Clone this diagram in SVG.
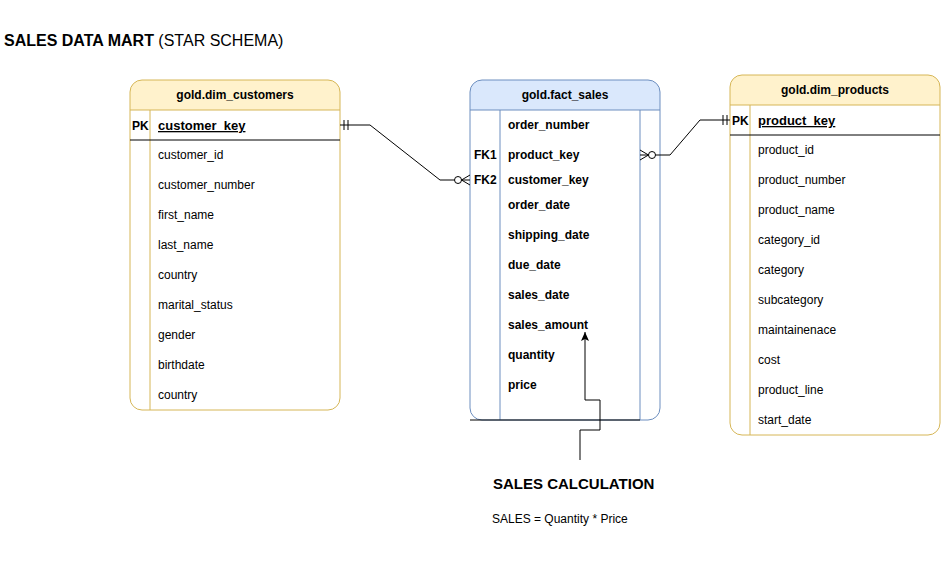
<svg xmlns="http://www.w3.org/2000/svg" width="941" height="583" viewBox="0 0 941 583">
<style>
text{font-family:"Liberation Sans",Arial,sans-serif;font-size:12px;fill:#000}
.b{font-weight:bold}
.h{font-weight:bold;text-anchor:middle}
.k{font-weight:bold;font-size:13px;text-decoration:underline}
.ys{stroke:#d6b656;fill:none}
.bs{stroke:#6c8ebf;fill:none}
.blk{stroke:#000;fill:none}
.c{stroke:#000;fill:none;stroke-width:1}
</style>
<defs>
<marker id="arr" markerWidth="10" markerHeight="10" refX="9" refY="5" orient="auto" markerUnits="userSpaceOnUse">
<path d="M0,1 L9,5 L0,9 L2,5 Z" fill="#000"/>
</marker>
</defs>
<rect width="941" height="583" fill="#fff"/>
<text x="4" y="46" style="font-size:16px"><tspan class="b">SALES DATA MART</tspan> (STAR SCHEMA)</text>

<g id="dim_customers">
<path d="M130,110 V92 a12,12 0 0 1 12,-12 H328 a12,12 0 0 1 12,12 V110 Z" fill="#fff2cc"/>
<rect x="130" y="80" width="210" height="330" rx="12" class="ys"/>
<line x1="130" y1="110" x2="340" y2="110" class="ys"/>
<line x1="150" y1="110" x2="150" y2="410" class="ys"/>
<line x1="130" y1="140" x2="340" y2="140" class="blk"/>
<text x="235" y="99" class="h">gold.dim_customers</text>
<text x="132" y="130" class="b">PK</text>
<text x="158" y="130" class="k">customer_key</text>
<text x="158" y="159">customer_id</text>
<text x="158" y="189">customer_number</text>
<text x="158" y="219">first_name</text>
<text x="158" y="249">last_name</text>
<text x="158" y="279">country</text>
<text x="158" y="309">marital_status</text>
<text x="158" y="339">gender</text>
<text x="158" y="369">birthdate</text>
<text x="158" y="399">country</text>
</g>

<g id="fact_sales">
<path d="M470,110 V92 a12,12 0 0 1 12,-12 H648 a12,12 0 0 1 12,12 V110 Z" fill="#dae8fc"/>
<rect x="470" y="80" width="190" height="340" rx="12" class="bs"/>
<line x1="470" y1="110" x2="660" y2="110" class="bs"/>
<line x1="500" y1="110" x2="500" y2="420" class="bs"/>
<line x1="640" y1="110" x2="640" y2="420" class="bs"/>
<line x1="470" y1="420" x2="640" y2="420" class="blk"/>
<text x="565" y="99" class="h">gold.fact_sales</text>
<text x="508" y="129" class="b">order_number</text>
<text x="474" y="159" class="b">FK1</text>
<text x="508" y="159" class="b">product_key</text>
<text x="474" y="184" class="b">FK2</text>
<text x="508" y="184" class="b">customer_key</text>
<text x="508" y="209" class="b">order_date</text>
<text x="508" y="239" class="b">shipping_date</text>
<text x="508" y="269" class="b">due_date</text>
<text x="508" y="299" class="b">sales_date</text>
<text x="508" y="329" class="b">sales_amount</text>
<text x="508" y="359" class="b">quantity</text>
<text x="508" y="389" class="b">price</text>
</g>

<g id="dim_products">
<path d="M730,105 V87 a12,12 0 0 1 12,-12 H928 a12,12 0 0 1 12,12 V105 Z" fill="#fff2cc"/>
<rect x="730" y="75" width="210" height="360" rx="12" class="ys"/>
<line x1="730" y1="105" x2="940" y2="105" class="ys"/>
<line x1="750" y1="105" x2="750" y2="435" class="ys"/>
<line x1="730" y1="135" x2="940" y2="135" class="blk"/>
<text x="835" y="94" class="h">gold.dim_products</text>
<text x="732" y="125" class="b">PK</text>
<text x="758" y="125" class="k">product_key</text>
<text x="758" y="154">product_id</text>
<text x="758" y="184">product_number</text>
<text x="758" y="214">product_name</text>
<text x="758" y="244">category_id</text>
<text x="758" y="274">category</text>
<text x="758" y="304">subcategory</text>
<text x="758" y="334">maintainenace</text>
<text x="758" y="364">cost</text>
<text x="758" y="394">product_line</text>
<text x="758" y="424">start_date</text>
</g>

<g id="sales_calc">
<text x="493" y="489" class="b" style="font-size:15px">SALES CALCULATION</text>
<text x="492" y="523">SALES = Quantity * Price</text>
</g>

<g id="connectors">
<path d="M340,125 H370 L440,180 H454.5" class="c"/>
<line x1="344" y1="120" x2="344" y2="130" class="c"/>
<line x1="348" y1="120" x2="348" y2="130" class="c"/>
<circle cx="458" cy="180" r="3.5" class="c"/>
<path d="M470,175 L461.5,180 L470,185 M461.5,180 H470" class="c"/>
<path d="M655.5,155 H670 L700,120 H730" class="c"/>
<line x1="723" y1="115" x2="723" y2="125" class="c"/>
<line x1="727" y1="115" x2="727" y2="125" class="c"/>
<circle cx="652" cy="155" r="3.5" class="c"/>
<path d="M640,150 L648.5,155 L640,160 M640,155 H648.5" class="c"/>
<path d="M580,460 V430 H600 V400 H585 V332" class="c" marker-end="url(#arr)"/>
</g>
</svg>
